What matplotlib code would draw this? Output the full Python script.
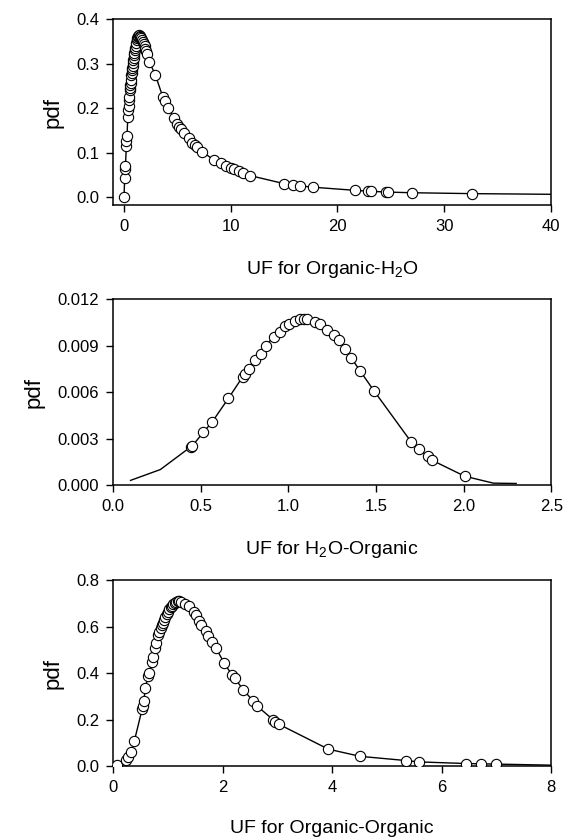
import matplotlib
matplotlib.use('Agg')
import matplotlib.pyplot as plt

plt.rcParams['font.family'] = ['Liberation Sans', 'DejaVu Sans']
plt.rcParams['mathtext.fontset'] = 'custom'
plt.rcParams['mathtext.rm'] = 'Liberation Sans'

# ----- panel 1: UF for Organic-H2O
p1_x = [0.03, 0.09, 0.15, 0.16, 0.25, 0.25, 0.31, 0.38, 0.41, 0.47, 0.47, 0.53,
        0.56, 0.60, 0.63, 0.66, 0.69, 0.72, 0.75, 0.78, 0.82, 0.85, 0.88, 0.91,
        0.94, 0.97, 1.00, 1.03, 1.08, 1.13, 1.18, 1.22, 1.27, 1.31, 1.37, 1.44,
        1.50, 1.56, 1.64, 1.72, 1.80, 1.88, 1.95, 2.03, 2.11, 2.19, 2.41, 2.97,
        3.66, 3.85, 4.16, 4.69, 5.00, 5.16, 5.38, 5.63, 6.10, 6.41, 6.67, 6.88,
        7.35, 8.45, 9.08, 9.55, 10.0, 10.3, 10.8, 11.2, 11.85, 15.0, 15.8, 16.5,
        17.7, 21.6, 22.9, 23.1, 24.5, 24.7, 27.0, 32.6]
p1_y = [0.001, 0.042, 0.064, 0.070, 0.115, 0.127, 0.138, 0.179, 0.196, 0.204, 0.218, 0.226,
        0.240, 0.245, 0.251, 0.257, 0.263, 0.274, 0.279, 0.285, 0.290, 0.296, 0.302, 0.308,
        0.313, 0.319, 0.325, 0.330, 0.336, 0.341, 0.347, 0.353, 0.357, 0.360, 0.362, 0.364,
        0.363, 0.360, 0.357, 0.354, 0.350, 0.345, 0.340, 0.334, 0.328, 0.323, 0.304, 0.274,
        0.225, 0.216, 0.201, 0.177, 0.164, 0.158, 0.152, 0.143, 0.132, 0.122, 0.116, 0.112,
        0.102, 0.083, 0.076, 0.070, 0.066, 0.062, 0.058, 0.054, 0.048, 0.030, 0.027, 0.025,
        0.022, 0.015, 0.013, 0.013, 0.011, 0.011, 0.0095, 0.0075]
p1_tail_x = [40.0]
p1_tail_y = [0.006]

# ----- panel 2: UF for H2O-Organic
p2_x = [0.445, 0.45, 0.515, 0.567, 0.658, 0.74, 0.755, 0.775, 0.81, 0.846, 0.87,
        0.918, 0.955, 0.98, 1.003, 1.04, 1.067, 1.088, 1.108, 1.15, 1.18, 1.22,
        1.263, 1.29, 1.325, 1.36, 1.408, 1.488, 1.70, 1.743, 1.795, 1.82, 2.006]
p2_y = [0.00248, 0.0025, 0.0034, 0.0041, 0.0056, 0.0070, 0.0072, 0.0075, 0.0081, 0.0085, 0.0090,
        0.0096, 0.0099, 0.0103, 0.0104, 0.0106, 0.0107, 0.0107, 0.0107, 0.01055, 0.0104, 0.0100,
        0.0097, 0.0094, 0.0088, 0.0082, 0.0074, 0.0061, 0.0028, 0.00233, 0.00186, 0.0016, 0.00057]
p2_head_x = [0.10, 0.27]
p2_head_y = [0.0003, 0.0010]
p2_tail_x = [2.17, 2.30]
p2_tail_y = [0.00012, 0.0001]

# ----- panel 3: UF for Organic-Organic
p3_x = [0.08, 0.245, 0.28, 0.33, 0.39, 0.53, 0.55, 0.56, 0.59, 0.64, 0.66, 0.71,
        0.725, 0.76, 0.78, 0.82, 0.84, 0.87, 0.89, 0.91, 0.93, 0.955, 0.98, 1.01,
        1.03, 1.05, 1.08, 1.10, 1.13, 1.15, 1.18, 1.20, 1.25, 1.32, 1.38, 1.47,
        1.52, 1.57, 1.61, 1.69, 1.74, 1.81, 1.88, 2.03, 2.17, 2.22, 2.38, 2.56,
        2.62, 2.92, 2.96, 3.03, 3.93, 4.51, 5.34, 5.59, 6.44, 6.71, 7.00]
p3_y = [0.003, 0.028, 0.040, 0.060, 0.109, 0.244, 0.260, 0.280, 0.335, 0.389, 0.400, 0.450,
        0.470, 0.508, 0.532, 0.567, 0.579, 0.596, 0.607, 0.617, 0.630, 0.642, 0.655, 0.666,
        0.675, 0.684, 0.692, 0.698, 0.704, 0.708, 0.711, 0.712, 0.708, 0.700, 0.690, 0.665,
        0.650, 0.627, 0.607, 0.583, 0.562, 0.536, 0.508, 0.444, 0.393, 0.379, 0.328, 0.280,
        0.261, 0.200, 0.190, 0.180, 0.073, 0.042, 0.024, 0.018, 0.011, 0.0099, 0.0085]
p3_tail_x = [8.0]
p3_tail_y = [0.004]

panels = [
    dict(x=p1_x, y=p1_y, lx=p1_x + p1_tail_x, ly=p1_y + p1_tail_y,
         xlim=(-1, 40), ylim=(-0.018, 0.4),
         xt=[0, 10, 20, 30, 40], xtl=['0', '10', '20', '30', '40'],
         yt=[0.0, 0.1, 0.2, 0.3, 0.4], ytl=['0.0', '0.1', '0.2', '0.3', '0.4'],
         xlabel='UF for Organic-H$_{\\mathrm{2}}$O', pos=[0.2004, 0.756, 0.777, 0.221]),
    dict(x=p2_x, y=p2_y, lx=p2_head_x + p2_x + p2_tail_x, ly=p2_head_y + p2_y + p2_tail_y,
         xlim=(0, 2.5), ylim=(0, 0.012),
         xt=[0, 0.5, 1.0, 1.5, 2.0, 2.5], xtl=['0.0', '0.5', '1.0', '1.5', '2.0', '2.5'],
         yt=[0, 0.003, 0.006, 0.009, 0.012], ytl=['0.000', '0.003', '0.006', '0.009', '0.012'],
         xlabel='UF for H$_{\\mathrm{2}}$O-Organic', pos=[0.2004, 0.4226, 0.777, 0.221]),
    dict(x=p3_x, y=p3_y, lx=p3_x + p3_tail_x, ly=p3_y + p3_tail_y,
         xlim=(0, 8), ylim=(0, 0.8),
         xt=[0, 2, 4, 6, 8], xtl=['0', '2', '4', '6', '8'],
         yt=[0.0, 0.2, 0.4, 0.6, 0.8], ytl=['0.0', '0.2', '0.4', '0.6', '0.8'],
         xlabel='UF for Organic-Organic', pos=[0.2004, 0.088, 0.777, 0.221]),
]

fig = plt.figure(figsize=(5.64, 8.4), dpi=100)

for p in panels:
    ax = fig.add_axes(p['pos'])
    ax.plot(p['lx'], p['ly'], color='black', lw=1.0, zorder=2)
    ax.plot(p['x'], p['y'], 'o', ms=7.4, mfc='white', mec='black', mew=0.8, zorder=3)
    ax.set_xlim(p['xlim'])
    ax.set_ylim(p['ylim'])
    ax.set_xticks(p['xt'])
    ax.set_xticklabels(p['xtl'])
    ax.set_yticks(p['yt'])
    ax.set_yticklabels(p['ytl'])
    ax.tick_params(direction='out', length=5, width=1.0, labelsize=12, pad=5)
    for s in ax.spines.values():
        s.set_linewidth(1.1)
    ax.set_ylabel('pdf', fontsize=16, labelpad=9)
    ax.set_xlabel(p['xlabel'], fontsize=14, labelpad=18)

plt.savefig('out.png', dpi=100)
